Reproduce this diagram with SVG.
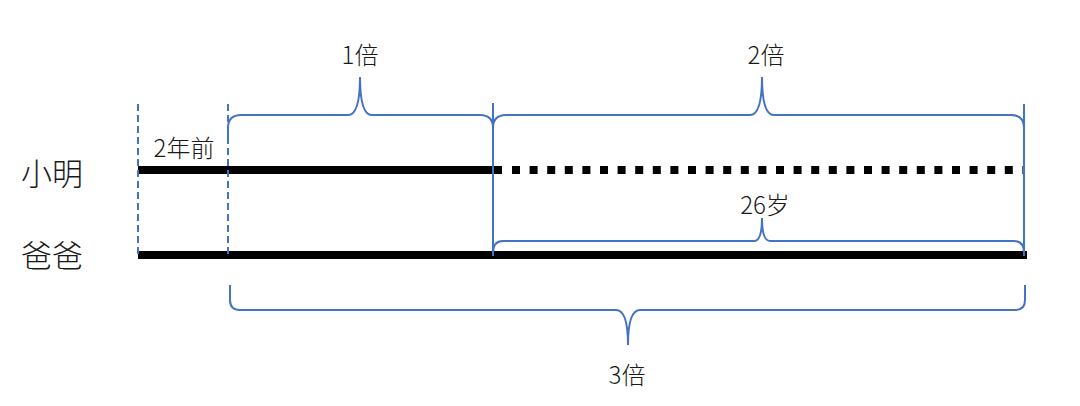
<svg xmlns="http://www.w3.org/2000/svg" width="1080" height="406" viewBox="0 0 1080 406">
<style>
.t{font-family:"Noto Sans CJK SC","Noto Sans",sans-serif;fill:#1a1a1a;text-anchor:middle;font-weight:300}
.big{font-size:31px}
.sm{font-size:24px}
.bl{fill:none;stroke:#4472C4;stroke-width:2}
.dash{fill:none;stroke:#4472C4;stroke-width:2;stroke-dasharray:7 4}
.bar{stroke:#000;stroke-width:8;fill:none}
</style>
<rect width="1080" height="406" fill="#fff"/>
<g id="labels">
<text class="t big" x="52" y="185">小明</text>
<text class="t big" x="52" y="267">爸爸</text>
<text class="t sm" x="184" y="157">2年前</text>
<text class="t sm" x="360" y="64">1倍</text>
<text class="t sm" x="766" y="64">2倍</text>
<text class="t sm" x="765" y="214">26岁</text>
<text class="t sm" x="627" y="384">3倍</text>
</g>
<g id="xiaoming-line">
<line class="bar" x1="138" y1="170" x2="502" y2="170"/>
<line class="bar" x1="512" y1="170" x2="1025" y2="170" stroke-dasharray="8 9.6"/>
</g>
<g id="baba-line">
<line class="bar" x1="138" y1="255" x2="1027" y2="255"/>
</g>
<g id="connectors">
<line class="dash" x1="138" y1="104" x2="138" y2="255"/>
<line class="dash" x1="228" y1="104" x2="228" y2="255"/>
<line class="bl" x1="493" y1="103" x2="493" y2="256"/>
<line class="bl" x1="1024" y1="104" x2="1024" y2="256"/>
<path class="bl" d="M228,143 L228,128 Q228,115 241,115 L348,115 Q360,115 360,77 Q360,115 372,115 L480,115 Q493,115 493,128 L493,143"/>
<path class="bl" d="M493,143 L493,128 Q493,115 506,115 L750,115 Q762,115 762,77 Q762,115 774,115 L1011,115 Q1024,115 1024,128 L1024,143"/>
<path class="bl" d="M493,253 Q493,241 503,241 L754,241 Q762,241 762,218 Q762,241 770,241 L1014,241 Q1024,241 1024,253"/>
<path class="bl" d="M230,285 L230,300 Q230,310 240,310 L616,310 Q628,310 628,345 Q628,310 640,310 L1015,310 Q1025,310 1025,300 L1025,285"/>
</g>
</svg>
